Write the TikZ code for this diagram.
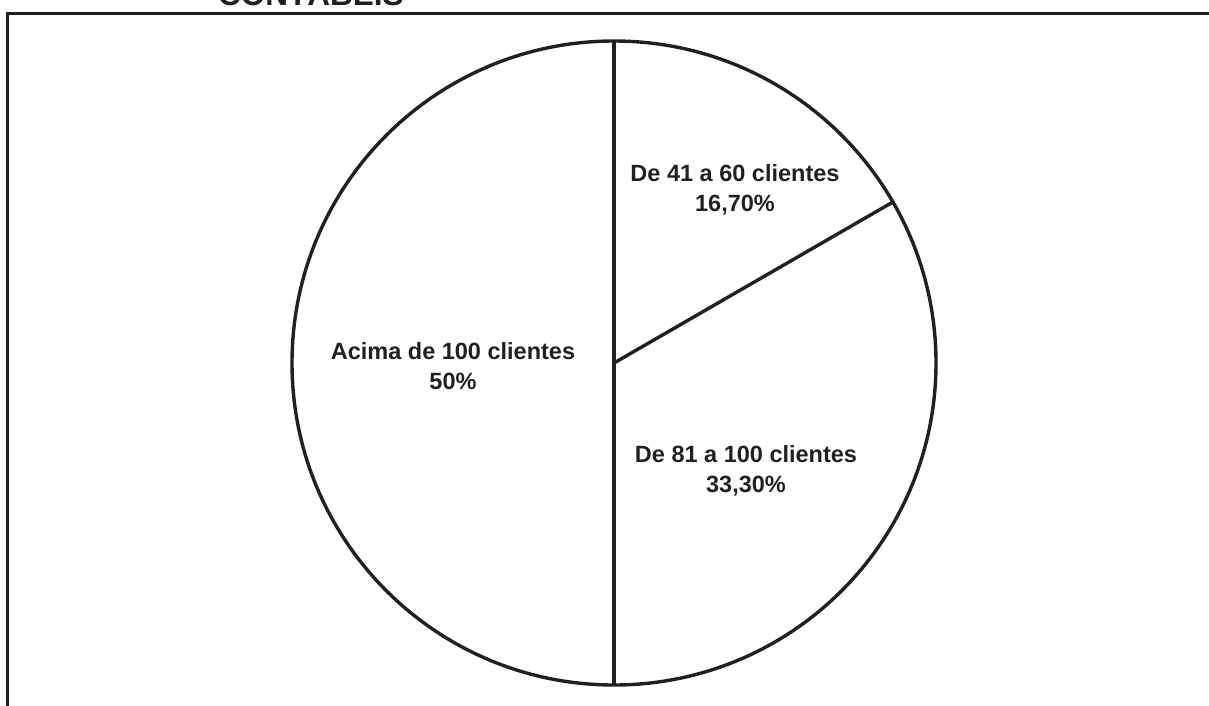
\documentclass[tikz,border=0pt]{standalone}
\usepackage{fontspec}
\setmainfont{Liberation Sans}
\definecolor{ink}{HTML}{231F20}
\begin{document}
\begin{tikzpicture}[x=1pt, y=-1pt,
    frameline/.style={draw=ink, line width=3pt},
    pieline/.style={draw=ink, line width=3.4pt},
    slicelabel/.style={align=center, anchor=base, text=ink, inner sep=0pt,
      font=\bfseries\fontsize{23.5}{29.5}\selectfont},
    titletext/.style={anchor=base west, text=ink, inner sep=0pt,
      font=\bfseries\fontsize{31.5}{36}\selectfont}]
  \useasboundingbox (0,0) rectangle (1209,705);
  \clip (0,0) rectangle (1209,705);

  % chart title, partly above the page
  \node[titletext] (title) at (218,5) {CONTÁBEIS};

  % outer frame (top and left edges)
  \coordinate (frameTL) at (7.5,13);
  \coordinate (frameTR) at (1212,13);
  \coordinate (frameBL) at (7.5,708);
  \draw[frameline] (frameTR) -- (frameTL) -- (frameBL);

  % pie chart: centre, radius 322, slices of 50%, 16.7% and 33.3%
  \coordinate (c) at (614,363);
  \coordinate (top) at (614,41);
  \coordinate (bottom) at (614,685);
  \coordinate (edge) at (892.9,202);
  \draw[pieline] (c) circle[radius=322];
  \draw[pieline] (top) -- (bottom);
  \draw[pieline] (c) -- (edge);

  % slice labels (positioned at the baseline of the second line)
  \node[slicelabel] (acima) at (453,389) {Acima de 100 clientes\\50\%};
  \node[slicelabel] (de41) at (735,211) {De 41 a 60 clientes\\16,70\%};
  \node[slicelabel] (de81) at (746,492) {De 81 a 100 clientes\\33,30\%};
\end{tikzpicture}
\end{document}
